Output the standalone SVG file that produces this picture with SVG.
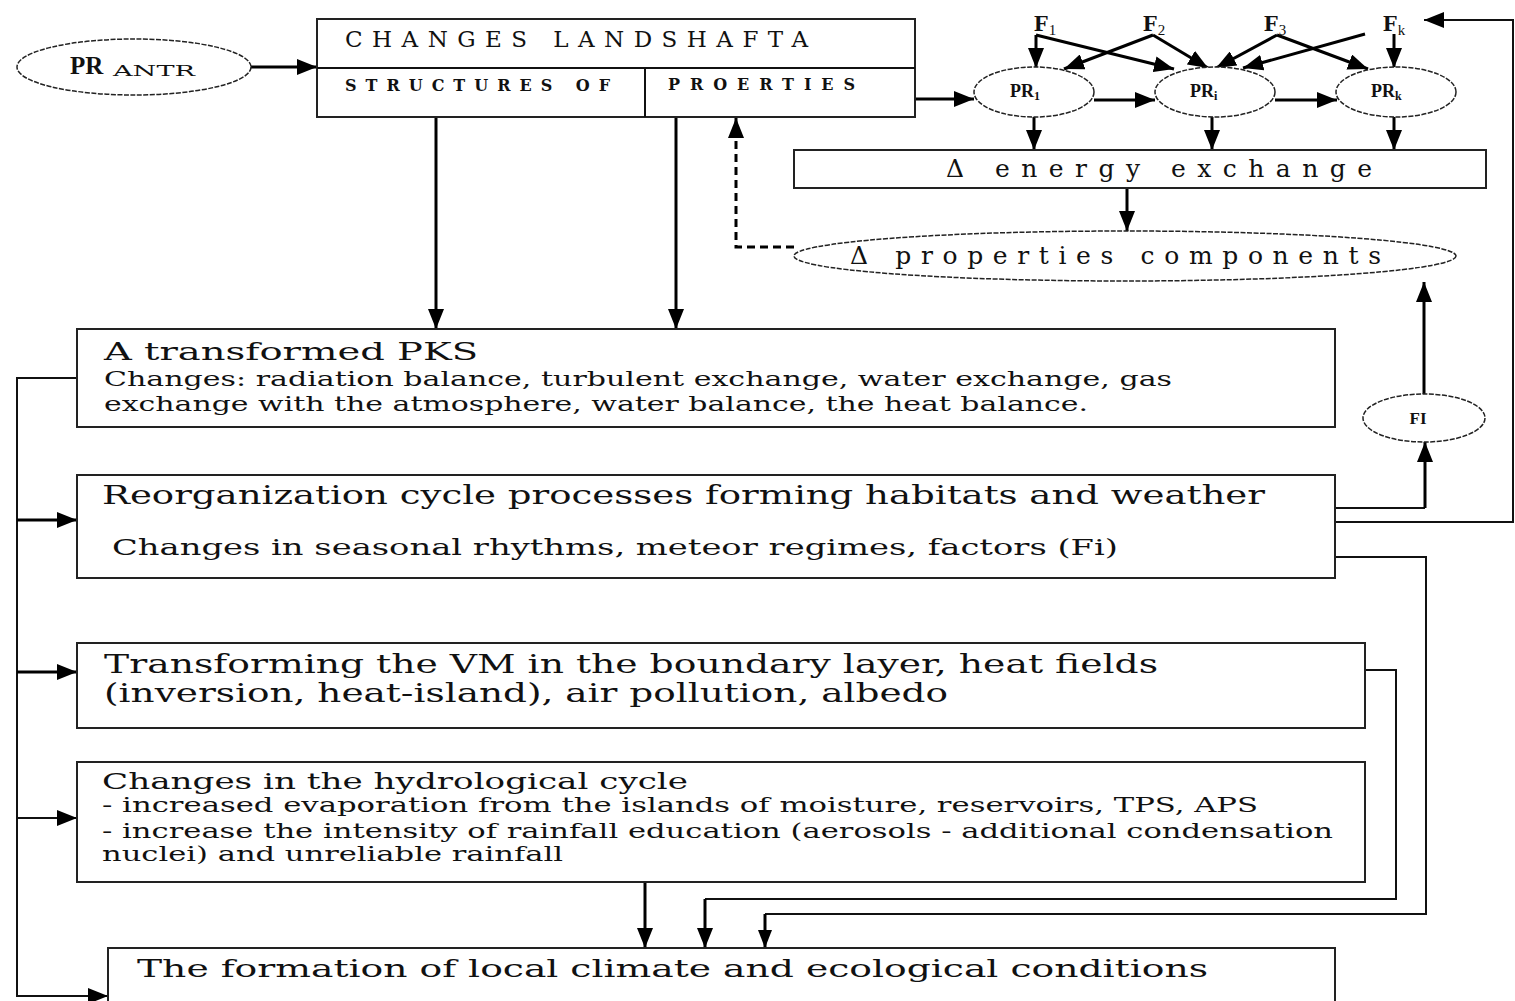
<svg xmlns="http://www.w3.org/2000/svg" width="1515" height="1001" viewBox="0 0 1515 1001">
<defs>
<marker id="ah" viewBox="0 0 20 16" refX="20" refY="8" markerWidth="20" markerHeight="16" markerUnits="userSpaceOnUse" orient="auto"><path d="M0,0 L20,8 L0,16 Z" fill="#000"/></marker>
<marker id="ahs" viewBox="0 0 18 14" refX="18" refY="7" markerWidth="18" markerHeight="14" markerUnits="userSpaceOnUse" orient="auto"><path d="M0,0 L18,7 L0,14 Z" fill="#000"/></marker>
</defs>
<style>
.box{fill:#fff;stroke:#222;stroke-width:2}
.ell{fill:#fff;stroke:#222;stroke-width:1.5;stroke-dasharray:5 1.5}
.c{fill:none;stroke:#000;stroke-width:3}
.t{fill:none;stroke:#111;stroke-width:2}
.ser{font-family:"DejaVu Serif","Liberation Serif",serif;fill:#111}
.sp{font-family:"DejaVu Serif","Liberation Serif",serif;fill:#111}
.b{font-family:"Liberation Serif","Times New Roman",serif;font-weight:bold;fill:#111}
</style>
<rect width="1515" height="1001" fill="#fff"/>

<g id="connectors">
<line class="c" x1="251" y1="67" x2="317" y2="67" marker-end="url(#ah)"/>
<line class="c" x1="915" y1="99" x2="974" y2="99" marker-end="url(#ah)"/>
<line class="c" x1="1094" y1="100" x2="1155" y2="100" marker-end="url(#ah)"/>
<line class="c" x1="1275" y1="100" x2="1337" y2="100" marker-end="url(#ah)"/>
<line class="c" x1="1036" y1="35" x2="1036" y2="68" marker-end="url(#ah)"/>
<line class="c" x1="1036" y1="35" x2="1174" y2="69" marker-end="url(#ah)"/>
<line class="c" x1="1153" y1="35" x2="1064" y2="69" marker-end="url(#ah)"/>
<line class="c" x1="1153" y1="35" x2="1208" y2="68" marker-end="url(#ah)"/>
<line class="c" x1="1277" y1="35" x2="1216" y2="68" marker-end="url(#ah)"/>
<line class="c" x1="1277" y1="35" x2="1368" y2="69" marker-end="url(#ah)"/>
<line class="c" x1="1365" y1="34" x2="1243" y2="68" marker-end="url(#ah)"/>
<line class="c" x1="1394" y1="34" x2="1394" y2="68" marker-end="url(#ah)"/>
<line class="c" x1="1034" y1="117" x2="1034" y2="150" marker-end="url(#ah)"/>
<line class="c" x1="1212" y1="117" x2="1212" y2="150" marker-end="url(#ah)"/>
<line class="c" x1="1394" y1="117" x2="1394" y2="150" marker-end="url(#ah)"/>
<line class="c" x1="1127" y1="188" x2="1127" y2="231" marker-end="url(#ah)"/>
<polyline class="c" points="794,247 736,247 736,118" stroke-dasharray="8 5" marker-end="url(#ah)"/>
<line class="c" x1="436" y1="117" x2="436" y2="329" marker-end="url(#ah)"/>
<line class="c" x1="676" y1="117" x2="676" y2="329" marker-end="url(#ah)"/>
<line class="c" x1="1424" y1="394" x2="1424" y2="282" marker-end="url(#ah)"/>
<polyline class="t" points="1335,508 1425,508"/>
<line class="c" x1="1425" y1="508" x2="1425" y2="442" marker-end="url(#ah)"/>
<polyline class="t" points="1335,522 1513,522 1513,20 1424,20" marker-end="url(#ah)"/>
<polyline class="t" points="77,378 17,378 17,996 108,996" marker-end="url(#ah)"/>
<line class="c" x1="17" y1="520" x2="77" y2="520" marker-end="url(#ah)"/>
<line class="c" x1="17" y1="672" x2="77" y2="672" marker-end="url(#ah)"/>
<line class="t" x1="17" y1="818" x2="77" y2="818" marker-end="url(#ah)"/>
<line class="c" x1="645" y1="882" x2="645" y2="948" marker-end="url(#ah)"/>
<polyline class="t" points="1365,670 1396,670 1396,899 705,899"/>
<line class="c" x1="705" y1="899" x2="705" y2="948" marker-end="url(#ah)"/>
<polyline class="t" points="1335,557 1426,557 1426,914 765,914"/>
<line class="c" x1="765" y1="914" x2="765" y2="948" marker-end="url(#ahs)"/>
</g>

<g id="pr-antr">
<ellipse class="ell" cx="134" cy="67" rx="117" ry="28"/>
<text class="b" x="70" y="74" font-size="25">PR</text>
<text class="ser" x="113" y="76" font-size="14" textLength="82" lengthAdjust="spacingAndGlyphs">ANTR</text>
</g>

<g id="changes-landshafta">
<rect class="box" x="317" y="19" width="598" height="98"/>
<line class="t" x1="317" y1="68" x2="915" y2="68"/>
<line class="t" x1="645" y1="68" x2="645" y2="117"/>
<text class="sp" x="345" y="47" font-size="23" textLength="463" lengthAdjust="spacing">CHANGES  LANDSHAFTA</text>
<text class="sp" x="345" y="91" font-size="16" font-weight="bold" textLength="265" lengthAdjust="spacing">STRUCTURES OF</text>
<text class="sp" x="668" y="90" font-size="16" font-weight="bold" textLength="187" lengthAdjust="spacing">PROERTIES</text>
</g>

<g id="factors">
<text class="b" x="1034" y="31" font-size="24">F<tspan font-size="15" dy="4" font-weight="normal">1</tspan></text>
<text class="b" x="1143" y="31" font-size="24">F<tspan font-size="15" dy="4" font-weight="normal">2</tspan></text>
<text class="b" x="1264" y="31" font-size="24">F<tspan font-size="15" dy="4" font-weight="normal">3</tspan></text>
<text class="b" x="1383" y="31" font-size="24">F<tspan font-size="15" dy="4" font-weight="normal">k</tspan></text>
</g>

<g id="pr-1">
<ellipse class="ell" cx="1034" cy="92" rx="60" ry="25"/>
<text class="b" x="1010" y="97" font-size="18">PR<tspan font-size="12" dy="3">1</tspan></text>
</g>
<g id="pr-i">
<ellipse class="ell" cx="1215" cy="92" rx="60" ry="25"/>
<text class="b" x="1190" y="97" font-size="18">PR<tspan font-size="12" dy="3">i</tspan></text>
</g>
<g id="pr-k">
<ellipse class="ell" cx="1396" cy="92" rx="60" ry="25"/>
<text class="b" x="1371" y="97" font-size="18">PR<tspan font-size="12" dy="3">k</tspan></text>
</g>

<g id="energy-exchange">
<rect class="box" x="794" y="150" width="692" height="38"/>
<text class="sp" x="946" y="177" font-size="25" textLength="426" lengthAdjust="spacing">Δ energy exchange</text>
</g>

<g id="properties-components">
<ellipse class="ell" cx="1125" cy="256" rx="331" ry="25"/>
<text class="sp" x="850" y="264" font-size="25" textLength="531" lengthAdjust="spacing">Δ properties components</text>
</g>

<g id="fi">
<ellipse class="ell" cx="1424" cy="418" rx="61" ry="24"/>
<text class="b" x="1418" y="424" font-size="17" text-anchor="middle">FI</text>
</g>

<g id="transformed-pks">
<rect class="box" x="77" y="329" width="1258" height="98"/>
<text class="ser" x="104" y="360" font-size="25" textLength="374" lengthAdjust="spacingAndGlyphs">A transformed PKS</text>
<text class="ser" x="104" y="386" font-size="21" textLength="1068" lengthAdjust="spacingAndGlyphs">Changes: radiation balance, turbulent exchange, water exchange, gas</text>
<text class="ser" x="104" y="411" font-size="21" textLength="984" lengthAdjust="spacingAndGlyphs">exchange with the atmosphere, water balance, the heat balance.</text>
</g>

<g id="reorganization">
<rect class="box" x="77" y="475" width="1258" height="103"/>
<text class="ser" x="102" y="504" font-size="26" textLength="1163" lengthAdjust="spacingAndGlyphs">Reorganization cycle processes forming habitats and weather</text>
<text class="ser" x="112" y="555" font-size="22" textLength="1006" lengthAdjust="spacingAndGlyphs">Changes in seasonal rhythms, meteor regimes, factors (Fi)</text>
</g>

<g id="transforming-vm">
<rect class="box" x="77" y="643" width="1288" height="85"/>
<text class="ser" x="104" y="673" font-size="26" textLength="1054" lengthAdjust="spacingAndGlyphs">Transforming the VM in the boundary layer, heat fields</text>
<text class="ser" x="104" y="702" font-size="26" textLength="844" lengthAdjust="spacingAndGlyphs">(inversion, heat-island), air pollution, albedo</text>
</g>

<g id="hydrological-cycle">
<rect class="box" x="77" y="762" width="1288" height="120"/>
<text class="ser" x="102" y="789" font-size="23" textLength="586" lengthAdjust="spacingAndGlyphs">Changes in the hydrological cycle</text>
<text class="ser" x="102" y="812" font-size="21" textLength="1156" lengthAdjust="spacingAndGlyphs">- increased evaporation from the islands of moisture, reservoirs, TPS, APS</text>
<text class="ser" x="102" y="838" font-size="21" textLength="1231" lengthAdjust="spacingAndGlyphs">- increase the intensity of rainfall education (aerosols - additional condensation</text>
<text class="ser" x="102" y="861" font-size="21" textLength="461" lengthAdjust="spacingAndGlyphs">nuclei) and unreliable rainfall</text>
</g>

<g id="local-climate">
<rect class="box" x="108" y="948" width="1227" height="60"/>
<text class="ser" x="137" y="977" font-size="25" textLength="1071" lengthAdjust="spacingAndGlyphs">The formation of local climate and ecological conditions</text>
</g>
</svg>
